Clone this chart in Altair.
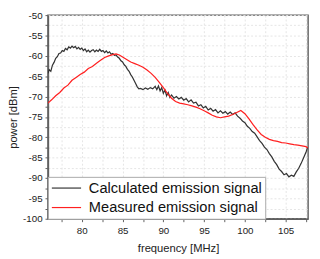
import altair as alt
import pandas as pd

calc_f = [75.85, 76.0, 76.2, 76.4, 76.6, 76.8, 77.0, 77.2, 77.4, 77.6, 77.8, 78.0, 78.2, 78.4, 78.6, 78.8,
          79.0, 79.2, 79.4, 79.6, 79.8, 80.0, 80.2, 80.4, 80.6, 80.8, 81.0, 81.2, 81.4, 81.6, 81.8, 82.0,
          82.2, 82.4, 82.6, 82.8, 83.0, 83.2, 83.4, 83.6, 83.8, 84.0, 84.2, 84.4, 84.6, 84.8, 85.0, 85.2,
          85.4, 85.6, 85.8, 86.0, 86.2, 86.4, 86.6, 86.8, 87.0, 87.2, 87.5, 87.8, 88.1, 88.4, 88.7, 89.0,
          89.2, 89.4, 89.6, 89.8, 90.0, 90.2, 90.4, 90.6, 90.8, 91.0, 91.3, 91.6, 91.9, 92.2, 92.5, 92.8,
          93.1, 93.4, 93.7, 94.0, 94.3, 94.6, 94.9, 95.2, 95.5, 95.8, 96.1, 96.4, 96.7, 97.0, 97.3, 97.6,
          97.9, 98.2, 98.5, 98.8, 99.1, 99.4, 99.7, 100.0, 100.3, 100.6, 100.9, 101.2, 101.5, 101.8, 102.1,
          102.4, 102.7, 103.0, 103.3, 103.6, 103.9, 104.2, 104.5, 104.8, 105.1, 105.4, 105.7, 106.0, 106.3,
          106.6, 106.9, 107.2, 107.5, 107.7]
calc_p = [-64.3, -63.4, -63.8, -62.3, -61.6, -60.6, -60.2, -59.4, -59.3, -58.7, -58.9, -58.2, -58.5, -57.8, -58.1, -57.6,
          -58.0, -57.7, -58.3, -57.9, -58.4, -58.1, -58.7, -58.3, -59.0, -58.6, -59.1, -58.7, -58.5, -59.0, -58.6, -58.9,
          -58.4, -58.9, -58.7, -59.2, -58.8, -59.3, -59.0, -59.6, -59.4, -59.9, -59.8, -60.3, -60.6, -61.2, -61.5, -62.2,
          -62.6, -63.3, -63.8, -64.6, -65.2, -66.0, -66.8, -67.6, -68.1, -68.0, -68.3, -67.9, -68.2, -67.8, -68.1, -67.5,
          -68.3, -67.4, -68.6, -67.8, -69.2, -68.4, -69.8, -69.0, -70.2, -69.6, -70.4, -70.0, -70.6, -70.2, -70.9, -70.5,
          -71.3, -70.8, -71.6, -71.4, -72.3, -72.0, -72.8, -72.4, -73.3, -72.9, -73.6, -73.2, -74.0, -73.5, -74.1, -73.7,
          -74.3, -73.8, -74.4, -74.0, -74.8, -75.3, -76.0, -76.4, -77.3, -77.8, -78.6, -79.0, -79.9, -80.8, -81.5,
          -82.4, -83.0, -84.0, -84.8, -85.9, -86.7, -87.8, -88.4, -89.2, -88.9, -89.7, -89.3, -89.6, -88.5,
          -87.6, -86.4, -85.0, -83.6, -82.4]

meas_f = [75.85, 76.3, 76.8, 77.3, 77.8, 78.3, 78.8, 79.3, 79.8, 80.3, 80.8, 81.3, 81.8, 82.3, 82.8, 83.3,
          83.8, 84.2, 84.6, 85.0, 85.5, 86.0, 86.5, 87.0, 87.5, 88.0, 88.5, 89.0, 89.5, 90.0, 90.5, 91.0,
          91.5, 92.0, 92.5, 93.0, 93.5, 94.0, 94.5, 95.0, 95.5, 96.0, 96.5, 97.0, 97.5, 98.0, 98.5, 99.0,
          99.5, 100.0, 100.5, 101.0, 101.5, 102.0, 102.5, 103.0, 103.5, 104.0, 104.5, 105.0, 105.5, 106.0,
          106.5, 107.0, 107.5, 107.7]
meas_p = [-71.6, -70.8, -69.8, -69.0, -67.9, -67.2, -66.0, -65.3, -64.6, -64.0, -63.1, -62.6, -61.8, -61.1, -60.4, -60.0,
          -59.7, -59.5, -59.8, -60.3, -60.9, -61.5, -61.9, -62.3, -62.8, -63.5, -64.3, -65.3, -66.5, -67.8, -69.2, -70.4,
          -71.2, -71.6, -71.8, -72.0, -72.3, -72.6, -73.0, -73.5, -74.0, -74.6, -75.0, -75.2, -75.0, -74.8, -74.4, -73.9,
          -73.4, -74.2, -75.5, -76.9, -78.2, -79.3, -80.0, -80.5, -80.8, -81.0, -81.3, -81.4, -81.6, -81.8,
          -81.9, -82.1, -82.3, -82.6]

series_names = ["Calculated emission signal", "Measured emission signal"]
series_colors = ["#333333", "#ff2020"]

x_ticks = [77.5, 80, 82.5, 85, 87.5, 90, 92.5, 95, 97.5, 100, 102.5, 105, 107.5]
y_ticks = [-100, -97.5, -95, -92.5, -90, -87.5, -85, -82.5, -80, -77.5, -75, -72.5, -70, -67.5,
           -65, -62.5, -60, -57.5, -55, -52.5, -50]

df = pd.concat([
    pd.DataFrame({"f": calc_f, "p": calc_p, "s": series_names[0], "o": range(len(calc_f))}),
    pd.DataFrame({"f": meas_f, "p": meas_p, "s": series_names[1], "o": range(len(meas_f))}),
])

FONT = "Liberation Sans"

chart = alt.Chart(df).mark_line(strokeWidth=1.25, clip=True).encode(
    x=alt.X("f:Q", scale=alt.Scale(domain=[75.85, 107.75], nice=False, zero=False),
            axis=alt.Axis(title="frequency [MHz]", values=x_ticks,
                          labelExpr="datum.value % 5 == 0 ? '' + datum.value : ''",
                          labelPadding=4, titlePadding=8)),
    y=alt.Y("p:Q", scale=alt.Scale(domain=[-100, -50], nice=False, zero=False),
            axis=alt.Axis(title="power [dBm]", values=y_ticks,
                          labelExpr="datum.value % 5 == 0 ? '' + datum.value : ''",
                          labelPadding=3, titlePadding=4)),
    color=alt.Color("s:N", scale=alt.Scale(domain=series_names, range=series_colors),
                    legend=alt.Legend(title=None, orient="bottom-left", offset=0)),
    order="o:Q",
).properties(
    width=267, height=209,
    autosize="none",
    padding={"left": 41, "top": 4, "right": 4, "bottom": 38},
).configure_view(
    stroke="#606060", strokeWidth=1.5
).configure_axis(
    labelFont=FONT, titleFont=FONT, labelFontSize=10, titleFontSize=11.5,
    titleFontWeight="normal", labelColor="#222", titleColor="#222",
    domainColor="#606060", domainWidth=1.5, tickColor="#606060", tickSize=3,
    grid=True, gridColor="#e4e4e4", gridDash=[2, 2], gridWidth=1,
    labelFlush=False, labelOverlap=False,
).configure_legend(
    labelFont=FONT, labelFontSize=15, labelColor="#111", symbolType="M-1,0H3",
    symbolSize=225, symbolStrokeWidth=1.2, labelOffset=22, padding=3, rowPadding=3,
    fillColor="white", strokeColor="#aaaaaa", labelLimit=400, cornerRadius=0,
)

chart.save("out.html", embed_options={"renderer": "svg", "actions": False})
